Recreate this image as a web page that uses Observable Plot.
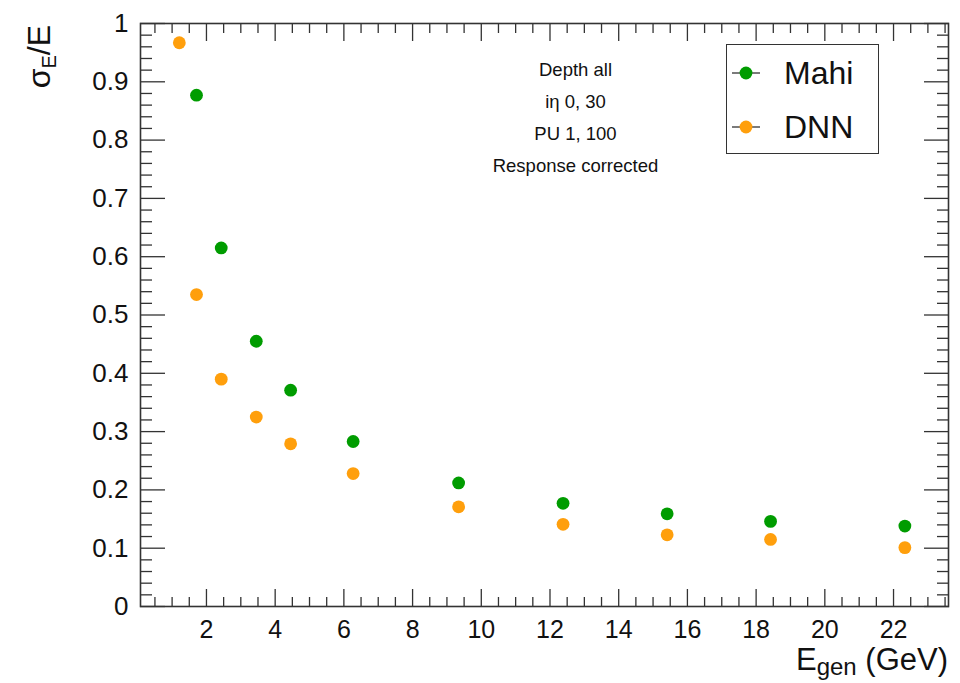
<!DOCTYPE html>
<html>
<head>
<meta charset="utf-8">
<script src="https://cdn.jsdelivr.net/npm/d3@7"></script>
<script src="https://cdn.jsdelivr.net/npm/@observablehq/plot@0.6"></script>
<style>
  body { margin: 0; background: #fff; font-family: "Liberation Sans", Arial, sans-serif; }
  #wrap { position: relative; width: 960px; height: 683px; overflow: hidden; }
  #legend { position: absolute; left: 726px; top: 44px; width: 153px; height: 110px;
            box-sizing: border-box; border: 1.5px solid #333; background: #fff; }
  .row { position: absolute; left: 0; height: 40px; display: flex; align-items: center; }
  .row span { font-size: 32px; color: #111; margin-left: 22px; line-height: 40px; }
</style>
</head>
<body>
<div id="wrap"></div>
<script>
// ---- data ----
const seriesNames = ["Mahi", "DNN"];
const seriesColors = ["#009c00", "#ff9f0c"];

const mahiEnergy     = [1.71, 2.43, 3.45, 4.45, 6.27, 9.34, 12.38, 15.41, 18.42, 22.33];
const mahiResolution = [0.877, 0.615, 0.455, 0.371, 0.283, 0.212, 0.177, 0.159, 0.146, 0.138];

const dnnEnergy      = [1.21, 1.71, 2.43, 3.45, 4.45, 6.27, 9.34, 12.38, 15.41, 18.42, 22.33];
const dnnResolution  = [0.967, 0.535, 0.390, 0.325, 0.279, 0.228, 0.171, 0.141, 0.123, 0.115, 0.101];

const xMajorTicks = [2, 4, 6, 8, 10, 12, 14, 16, 18, 20, 22];
const yMajorTicks = [0, 0.1, 0.2, 0.3, 0.4, 0.5, 0.6, 0.7, 0.8, 0.9, 1];
const xMinorTicks = d3.range(1, 48).map(i => i / 2).filter(v => v % 2 !== 0);
const yMinorTicks = d3.range(1, 50).filter(i => i % 5 !== 0).map(i => i / 50);

const annotationLines = ["Depth all", "iη 0, 30", "PU 1, 100", "Response corrected"];

// ---- build tables ----
const mahi = mahiEnergy.map((e, i) => ({e, r: mahiResolution[i]}));
const dnn  = dnnEnergy.map((e, i) => ({e, r: dnnResolution[i]}));

const tickColor = "#333";
const noLabel = () => "";

const chart = Plot.plot({
  width: 960,
  height: 683,
  marginLeft: 140,
  marginRight: 12,
  marginTop: 23,
  marginBottom: 77,
  style: { fontFamily: "Liberation Sans, Arial, sans-serif", color: "#111", background: "#fff" },
  x: { domain: [0.08, 23.6] },
  y: { domain: [0, 1] },
  marks: [
    // inward tick marks on all four sides (ROOT style)
    Plot.axisX(xMajorTicks, { anchor: "bottom", tickSize: -17, tickFormat: noLabel, stroke: tickColor, strokeWidth: 1.3, label: null }),
    Plot.axisX(xMinorTicks, { anchor: "bottom", tickSize: -9, tickFormat: noLabel, stroke: tickColor, strokeWidth: 1.3, label: null }),
    Plot.axisX(xMajorTicks, { anchor: "top", tickSize: -17, tickFormat: noLabel, stroke: tickColor, strokeWidth: 1.3, label: null }),
    Plot.axisX(xMinorTicks, { anchor: "top", tickSize: -9, tickFormat: noLabel, stroke: tickColor, strokeWidth: 1.3, label: null }),
    Plot.axisY(yMajorTicks, { anchor: "left", tickSize: -25, tickFormat: noLabel, stroke: tickColor, strokeWidth: 1.3, label: null }),
    Plot.axisY(yMinorTicks, { anchor: "left", tickSize: -12, tickFormat: noLabel, stroke: tickColor, strokeWidth: 1.3, label: null }),
    Plot.axisY(yMajorTicks, { anchor: "right", tickSize: -25, tickFormat: noLabel, stroke: tickColor, strokeWidth: 1.3, label: null }),
    Plot.axisY(yMinorTicks, { anchor: "right", tickSize: -12, tickFormat: noLabel, stroke: tickColor, strokeWidth: 1.3, label: null }),
    // tick labels
    Plot.axisX(xMajorTicks, { anchor: "bottom", tickSize: 0, tickPadding: 14, fontSize: 25, tickFormat: d3.format("~g"), label: null, fill: "#111" }),
    Plot.axisY(yMajorTicks, { anchor: "left", tickSize: 0, tickPadding: 12, fontSize: 26, tickFormat: d3.format("~g"), label: null, fill: "#111" }),
    Plot.frame({ stroke: tickColor, strokeWidth: 1.6 }),
    // annotation
    Plot.text([annotationLines.join("\n")], {
      text: d => d, frameAnchor: "top", lineAnchor: "top", dx: 31, dy: 30,
      lineHeight: 1.73, fontSize: 18.5, fill: "#111"
    }),
    // data
    Plot.dot(mahi, { x: "e", y: "r", r: 6.4, fill: seriesColors[0], stroke: null }),
    Plot.dot(dnn,  { x: "e", y: "r", r: 6.4, fill: seriesColors[1], stroke: null })
  ]
});

const wrap = document.getElementById("wrap");
wrap.appendChild(chart);

// axis titles with subscripts
const svg = d3.select(chart);
const xt = svg.append("text")
  .attr("x", 948).attr("y", 670)
  .attr("text-anchor", "end")
  .attr("font-size", 31).attr("fill", "#111")
  .attr("font-family", "Liberation Sans, Arial, sans-serif");
xt.append("tspan").text("E");
xt.append("tspan").attr("font-size", 24).attr("dy", 5).text("gen");
xt.append("tspan").attr("dy", -5).text(" (GeV)");

const yt = svg.append("text")
  .attr("transform", "translate(50,25) rotate(-90)")
  .attr("text-anchor", "end")
  .attr("font-size", 32).attr("fill", "#111")
  .attr("font-family", "Liberation Sans, Arial, sans-serif");
yt.append("tspan").text("σ");
yt.append("tspan").attr("font-size", 20).attr("dy", 6).text("E");
yt.append("tspan").attr("dy", -6).text("/E");

// legend
const legend = document.createElement("div");
legend.id = "legend";
const rowTops = [8, 62];
seriesNames.forEach((name, i) => {
  const row = document.createElement("div");
  row.className = "row";
  row.style.top = rowTops[i] + "px";
  row.style.left = "5px";
  row.innerHTML =
    `<svg width="30" height="16"><line x1="0" x2="28" y1="8" y2="8" stroke="#222" stroke-width="1.2"/>` +
    `<circle cx="14" cy="8" r="6.4" fill="${seriesColors[i]}"/></svg><span>${name}</span>`;
  legend.appendChild(row);
});
wrap.appendChild(legend);
</script>
</body>
</html>
